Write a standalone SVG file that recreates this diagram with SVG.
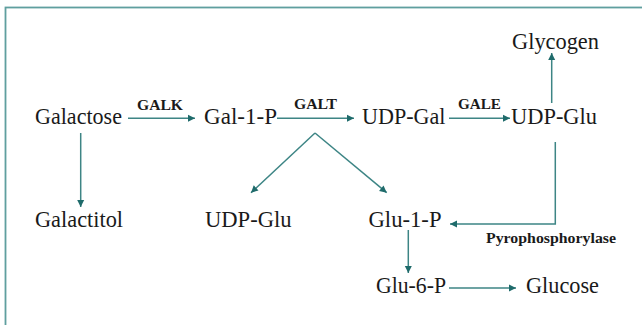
<svg xmlns="http://www.w3.org/2000/svg" width="642" height="325" viewBox="0 0 642 325">
<style>
text{font-family:"Liberation Serif","DejaVu Serif",serif}
.n{font-size:23px;fill:#1a1a1a}
.e{font-size:14px;font-weight:bold;fill:#1a1a1a}
.c line,.c polyline{stroke:#3d8585;stroke-width:1.5;fill:none;marker-end:url(#ah)}
</style>
<defs>
<marker id="ah" markerUnits="userSpaceOnUse" markerWidth="10" markerHeight="10" viewBox="0 0 10 10" refX="8" refY="5" orient="auto">
<path d="M1,1.5 L8,5 L1,8.5 Z" fill="#1f6b6b"/>
</marker>
</defs>
<rect x="0" y="0" width="642" height="325" fill="#ffffff"/>
<rect x="5.5" y="7.5" width="700" height="400" fill="none" stroke="#5f9f9f" stroke-width="1.8"/>
<g class="c" id="connectors">
<line x1="128" y1="118.3" x2="195" y2="118.3"/>
<line x1="277" y1="118.3" x2="354" y2="118.3"/>
<line x1="449" y1="118.3" x2="510" y2="118.3"/>
<line x1="551.7" y1="103" x2="551.7" y2="53"/>
<line x1="80.7" y1="133" x2="80.7" y2="207"/>
<line x1="315" y1="133" x2="251" y2="192.7"/>
<line x1="315" y1="133" x2="386.7" y2="192.7"/>
<polyline points="555.3,142 555.3,224 450,224"/>
<line x1="408.3" y1="230" x2="408.3" y2="273"/>
<line x1="449" y1="288" x2="516" y2="288"/>
</g>
<g id="galactose"><text class="n" x="35" y="124" textLength="87" lengthAdjust="spacingAndGlyphs">Galactose</text></g>
<g id="galk"><text class="e" x="137" y="109.5" textLength="46" lengthAdjust="spacingAndGlyphs">GALK</text></g>
<g id="gal1p"><text class="n" x="204" y="124" textLength="73" lengthAdjust="spacingAndGlyphs">Gal-1-P</text></g>
<g id="galt"><text class="e" x="294" y="108.5" textLength="43" lengthAdjust="spacingAndGlyphs">GALT</text></g>
<g id="udpgal"><text class="n" x="362" y="124" textLength="83.5" lengthAdjust="spacingAndGlyphs">UDP-Gal</text></g>
<g id="gale"><text class="e" x="458" y="109" textLength="43" lengthAdjust="spacingAndGlyphs">GALE</text></g>
<g id="udpglu1"><text class="n" x="511" y="124" textLength="86" lengthAdjust="spacingAndGlyphs">UDP-Glu</text></g>
<g id="glycogen"><text class="n" x="512" y="48.5" textLength="87" lengthAdjust="spacingAndGlyphs">Glycogen</text></g>
<g id="galactitol"><text class="n" x="35" y="227" textLength="88" lengthAdjust="spacingAndGlyphs">Galactitol</text></g>
<g id="udpglu2"><text class="n" x="205" y="227" textLength="86.5" lengthAdjust="spacingAndGlyphs">UDP-Glu</text></g>
<g id="glu1p"><text class="n" x="368.5" y="227" textLength="73" lengthAdjust="spacingAndGlyphs">Glu-1-P</text></g>
<g id="pyro"><text class="e" x="486" y="242.7" textLength="130" lengthAdjust="spacingAndGlyphs">Pyrophosphorylase</text></g>
<g id="glu6p"><text class="n" x="376" y="293" textLength="70" lengthAdjust="spacingAndGlyphs">Glu-6-P</text></g>
<g id="glucose"><text class="n" x="526" y="293" textLength="73" lengthAdjust="spacingAndGlyphs">Glucose</text></g>
</svg>
